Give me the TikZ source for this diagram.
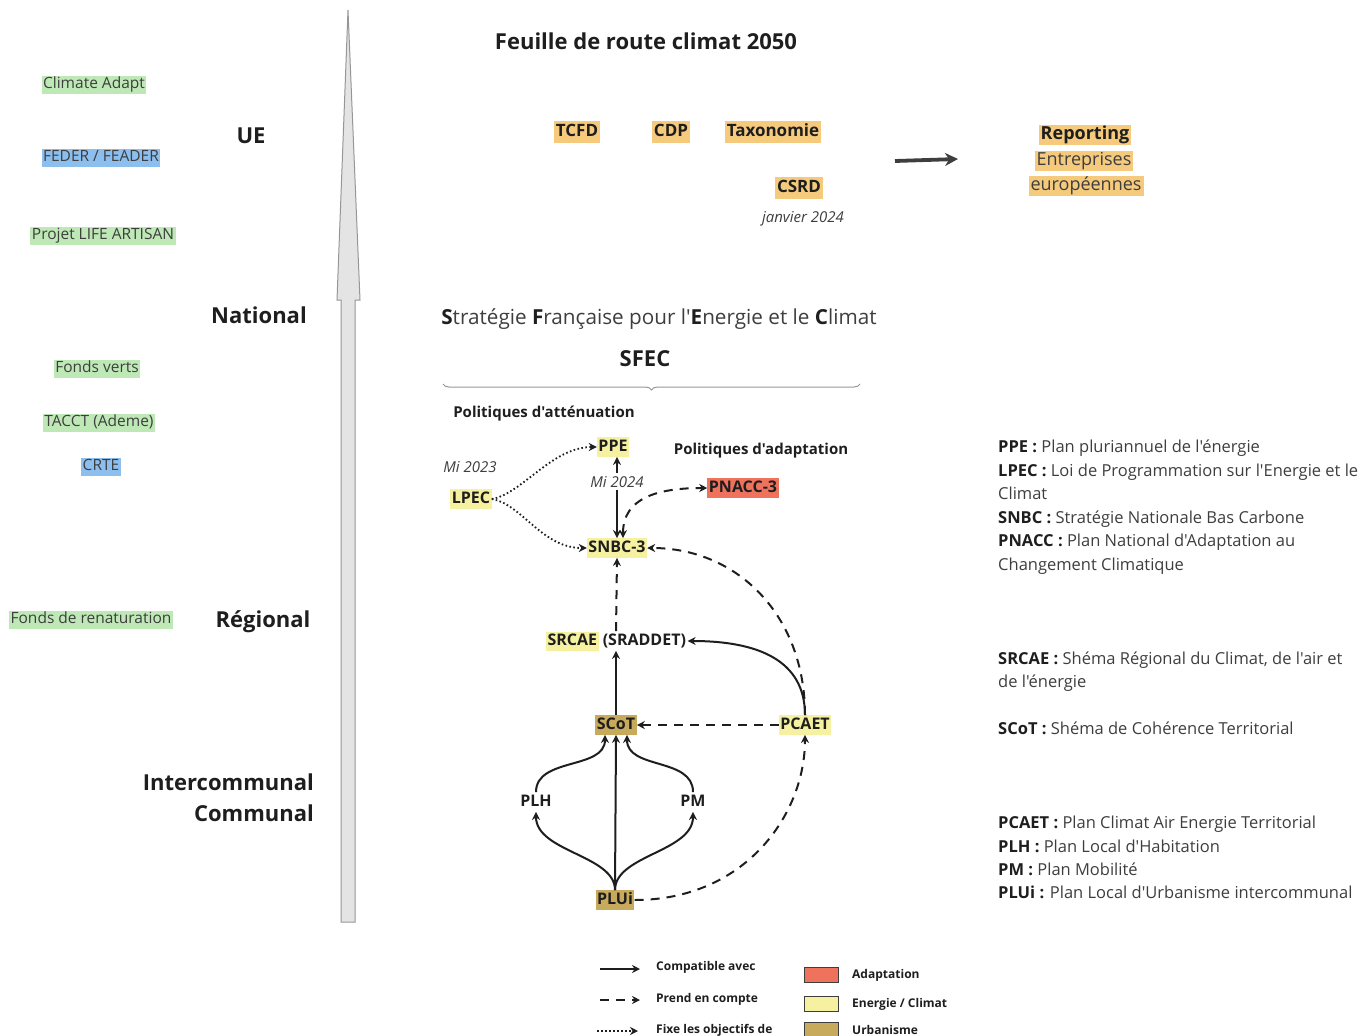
\documentclass[tikz,border=0pt]{standalone}
\usepackage{fontspec}
\setmainfont{Open Sans}[Ligatures=TeXOff]
\usetikzlibrary{arrows.meta,decorations.pathreplacing}

\definecolor{ink}{RGB}{30,30,30}
\definecolor{soft}{RGB}{62,62,62}
\definecolor{greenhl}{RGB}{190,233,182}
\definecolor{bluehl}{RGB}{140,190,238}
\definecolor{orangehl}{RGB}{245,202,125}
\definecolor{yellowhl}{RGB}{246,241,160}
\definecolor{redhl}{RGB}{238,114,92}
\definecolor{goldhl}{RGB}{200,170,92}
\definecolor{axisfill}{RGB}{228,228,228}
\definecolor{axisline}{RGB}{150,150,150}

\newcommand\hlword[2]{{\setlength{\fboxsep}{1.5pt}\colorbox{#1}{\vphantom{Ag}#2}}}

\tikzset{
  every node/.style={inner sep=0pt, text=ink, yshift=-2pt},
  fund/.style={font=\fontsize{15.5}{18}\selectfont, text=soft, inner xsep=1.5pt, inner ysep=2pt, text height=11.3pt, text depth=3.6pt},
  level/.style={font=\fontsize{22}{26}\selectfont\bfseries},
  tagbox/.style={font=\fontsize{17}{20}\selectfont\bfseries, fill=orangehl, inner xsep=2pt, inner ysep=2.5pt, text height=12.5pt, text depth=4pt},
  reportline/.style={font=\fontsize{18}{21}\selectfont, fill=orangehl, inner xsep=2pt, inner ysep=1.5pt, text height=13pt, text depth=4.5pt, text=soft},
  plan/.style={font=\fontsize{16}{19}\selectfont\bfseries, inner xsep=1.5pt, inner ysep=2pt, text height=12pt, text depth=3.5pt},
  heading/.style={font=\fontsize{15}{18}\selectfont\bfseries},
  datenote/.style={font=\fontsize{15}{18}\selectfont\itshape, text=soft},
  defn/.style={font=\fontsize{16.5}{19}\selectfont, anchor=base west, text=soft},
  legtext/.style={font=\fontsize{12}{14}\selectfont\bfseries, anchor=west},
  swatch/.style={draw=soft, line width=0.9pt, minimum width=34pt, minimum height=15pt},
  >={Stealth[length=8pt,width=8pt]},
  compat/.style={draw=ink, line width=2pt},
  account/.style={draw=ink, line width=2pt, dash pattern=on 9pt off 7pt},
  setsgoal/.style={draw=ink, line width=1.8pt, dash pattern=on 1.6pt off 2.4pt},
}

\begin{document}
\begin{tikzpicture}[x=1pt,y=-1pt]
\useasboundingbox (0,0) rectangle (1371,1036);

% vertical scale arrow
\draw[fill=axisfill, draw=axisline, line width=1pt]
  (341,922) -- (341,300) -- (337,300) -- (348,10) -- (360,300) -- (355,300) -- (355,922) -- cycle;

% funding instruments
\node[fund, fill=greenhl] (climadapt) at (94,83) {Climate Adapt};
\node[fund, fill=bluehl] (feder) at (101,156) {FEDER / FEADER};
\node[fund, fill=greenhl] (life) at (103,234) {Projet LIFE ARTISAN};
\node[fund, fill=greenhl] (fverts) at (97,367) {Fonds verts};
\node[fund, fill=greenhl] (tacct) at (99,421) {TACCT (Ademe)};
\node[fund, fill=bluehl] (crte) at (101,465) {CRTE};
\node[fund, fill=greenhl] (renat) at (91,618) {Fonds de renaturation};

% levels
\node[level] (ue) at (251,134) {UE};
\node[level] (national) at (259,313) {National};
\node[level] (regional) at (263,620) {Régional};
\node[level, anchor=east] (interco) at (314,780) {Intercommunal};
\node[level, anchor=east] (communal) at (314,811) {Communal};

% EU reporting
\node[font=\fontsize{22}{26}\selectfont\bfseries] (roadmap) at (646,39) {Feuille de route climat 2050};
\node[tagbox] (tcfd) at (577,130) {TCFD};
\node[tagbox] (cdp) at (671,130) {CDP};
\node[tagbox] (taxo) at (773,130) {Taxonomie};
\node[tagbox] (csrd) at (799,186) {CSRD};
\node[datenote] (jan) at (803,217) {janvier 2024};
\node[reportline, font=\fontsize{18}{21}\selectfont\bfseries, text=ink] (reporting) at (1085,133) {Reporting};
\node[reportline] (entreprises) at (1084,159) {Entreprises};
\node[reportline] (europe) at (1086,184) {européennes};
\coordinate (repfrom) at (895,159);
\coordinate (repto) at (958,157);
\draw[draw=soft, line width=3.8pt, -{Stealth[length=13pt,width=13pt]}] (repfrom) -- (repto);

% SFEC
\node[font=\fontsize{20.7}{24}\selectfont, text=soft] (sfeclong) at (659,317)
  {\textbf{\color{ink}S}tratégie \textbf{\color{ink}F}rançaise pour l'\textbf{\color{ink}E}nergie et le \textbf{\color{ink}C}limat};
\node[font=\fontsize{22}{26}\selectfont\bfseries] (sfec) at (645,357) {SFEC};
\coordinate (braceL) at (443,382);
\coordinate (braceR) at (860,382);
\draw[decorate, decoration={brace, mirror, amplitude=6pt}, draw=axisline, line width=1pt] (braceL) -- (braceR);
\node[heading] (attenuation) at (544,412) {Politiques d'atténuation};
\node[heading] (adaptation) at (761,449) {Politiques d'adaptation};

% plans
\node[plan, fill=yellowhl] (ppe) at (613,445) {PPE};
\node[datenote] (mi2023) at (470,465) {Mi 2023};
\node[plan, fill=yellowhl] (lpec) at (471,497) {LPEC};
\node[plan, fill=redhl] (pnacc) at (743,486) {PNACC-3};
\node[plan, fill=yellowhl] (snbc) at (617,546) {SNBC-3};
\node[plan] (srcae) at (616,639) {\hlword{yellowhl}{SRCAE} (SRADDET)};
\node[plan, fill=goldhl] (scot) at (616,723) {SCoT};
\node[plan, fill=yellowhl] (pcaet) at (805,723) {PCAET};
\node[plan] (plh) at (536,800) {PLH};
\node[plan] (pm) at (693,800) {PM};
\node[plan, fill=goldhl] (plui) at (615,898) {PLUi};

% connectors
\draw[setsgoal, ->] (lpec.east) .. controls +(30,-5) and +(-45,0) .. (ppe.west);
\draw[setsgoal, ->] (lpec.east) .. controls +(30,5) and +(-45,0) .. (snbc.west);
\draw[compat, <->] (snbc.north |- ppe.south) -- node[pos=0.28, fill=white, datenote, inner xsep=1pt, inner ysep=3pt, yshift=0pt] (mi2024) {Mi 2024} (snbc.north);
\draw[account, <->] ([xshift=6pt]snbc.north) .. controls +(0,-40) and +(-50,0) .. (pnacc.west);
\draw[account, ->] (pcaet.north) .. controls +(0,-100) and +(90,0) .. (snbc.east);
\draw[account, ->] (srcae.north) -- (snbc.south);
\draw[compat, ->] (scot.north) -- (srcae.south);
\draw[compat, ->] (pcaet.north) .. controls +(0,-55) and +(70,0) .. (srcae.east);
\draw[account, ->] (pcaet.west) -- (scot.east);
\draw[account, ->] (plui.east) .. controls +(110,0) and +(0,80) .. (pcaet.south);
\draw[compat, ->] (plui.north) -- (scot.south);
\draw[compat, ->] (plui.north) .. controls +(0,-35) and +(0,40) .. (plh.south);
\draw[compat, ->] (plui.north) .. controls +(0,-35) and +(0,40) .. (pm.south);
\draw[compat, ->] (plh.north) .. controls +(0,-35) and +(0,35) .. ([xshift=-11pt]scot.south);
\draw[compat, ->] (pm.north) .. controls +(0,-35) and +(0,35) .. ([xshift=11pt]scot.south);

% definitions
\node[defn] (dppe) at (998,450) {\textbf{\color{ink}PPE :} Plan pluriannuel de l'énergie};
\node[defn] (dlpec) at (998,474) {\textbf{\color{ink}LPEC :} Loi de Programmation sur l'Energie et le};
\node[defn] (dlpec2) at (998,497) {Climat};
\node[defn] (dsnbc) at (998,521) {\textbf{\color{ink}SNBC :} Stratégie Nationale Bas Carbone};
\node[defn] (dpnacc) at (998,544) {\textbf{\color{ink}PNACC :} Plan National d'Adaptation au};
\node[defn] (dpnacc2) at (998,568) {Changement Climatique};
\node[defn] (dsrcae) at (998,662) {\textbf{\color{ink}SRCAE :} Shéma Régional du Climat, de l'air et};
\node[defn] (dsrcae2) at (998,685) {de l'énergie};
\node[defn] (dscot) at (998,732) {\textbf{\color{ink}SCoT :} Shéma de Cohérence Territorial};
\node[defn] (dpcaet) at (998,826) {\textbf{\color{ink}PCAET :} Plan Climat Air Energie Territorial};
\node[defn] (dplh) at (998,850) {\textbf{\color{ink}PLH :} Plan Local d'Habitation};
\node[defn] (dpm) at (998,873) {\textbf{\color{ink}PM :} Plan Mobilité};
\node[defn] (dplui) at (998,896) {\textbf{\color{ink}PLUi :} Plan Local d'Urbanisme intercommunal};

% legend
\coordinate (lga) at (600,967);
\coordinate (lgb) at (640,967);
\coordinate (lgc) at (600,998);
\coordinate (lgd) at (640,998);
\coordinate (lge) at (597,1029);
\coordinate (lgf) at (638,1029);
\draw[compat, ->] (lga) -- (lgb);
\draw[account, ->] (lgc) -- (lgd);
\draw[setsgoal, ->] (lge) -- (lgf);
\node[legtext] (lcompat) at (656,965) {Compatible avec};
\node[legtext] (lprend) at (656,997) {Prend en compte};
\node[legtext] (lfixe) at (656,1028) {Fixe les objectifs de};
\node[swatch, fill=redhl] (sadapt) at (821,973) {};
\node[swatch, fill=yellowhl] (senergie) at (821,1002) {};
\node[swatch, fill=goldhl] (surba) at (821,1028) {};
\node[legtext] (ladapt) at (852,973) {Adaptation};
\node[legtext] (lenergie) at (852,1002) {Energie / Climat};
\node[legtext] (lurba) at (852,1028) {Urbanisme};
\end{tikzpicture}
\end{document}
